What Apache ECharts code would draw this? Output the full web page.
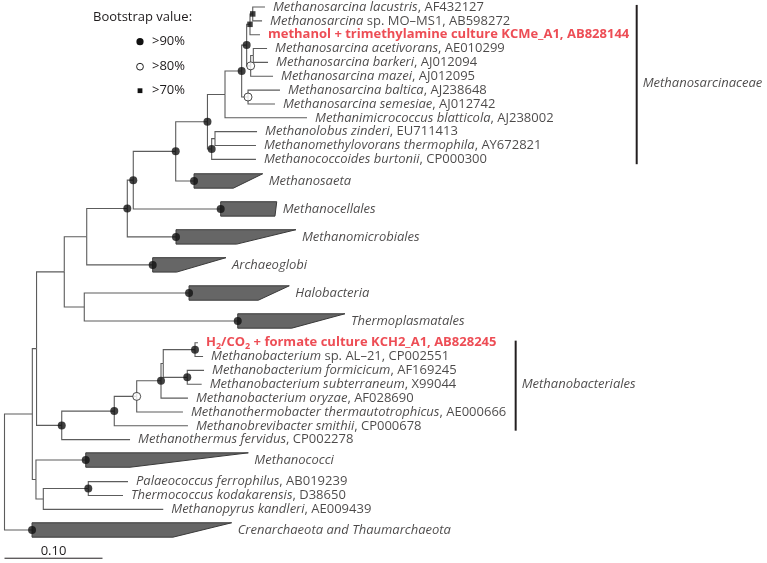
<!DOCTYPE html>
<html><head><meta charset="utf-8">
<script src="https://cdn.jsdelivr.net/npm/echarts@6/dist/echarts.min.js"></script>
<style>html,body{margin:0;padding:0;background:#fff}#c{width:767px;height:563px}</style>
</head><body><div id="c"></div>
<script>
// ---------------- data ----------------
// leaves (terminal taxa or collapsed clades), top to bottom
const leafLabels = [
  '{i|Methanosarcina lacustris}{r|, AF432127}',
  '{i|Methanosarcina}{r| sp. MO–MS1, AB598272}',
  '{b|methanol + trimethylamine culture KCMe_A1, AB828144}',
  '{i|Methanosarcina acetivorans}{r|, AE010299}',
  '{i|Methanosarcina barkeri}{r|, AJ012094}',
  '{i|Methanosarcina mazei}{r|, AJ012095}',
  '{i|Methanosarcina baltica}{r|, AJ238648}',
  '{i|Methanosarcina semesiae}{r|, AJ012742}',
  '{i|Methanimicrococcus blatticola}{r|, AJ238002}',
  '{i|Methanolobus zinderi}{r|, EU711413}',
  '{i|Methanomethylovorans thermophila}{r|, AY672821}',
  '{i|Methanococcoides burtonii}{r|, CP000300}',
  '{i|Methanosaeta}',
  '{i|Methanocellales}',
  '{i|Methanomicrobiales}',
  '{i|Archaeoglobi}',
  '{i|Halobacteria}',
  '{i|Thermoplasmatales}',
  '{b|H}{s|2}{b|/CO}{s|2}{b| + formate culture KCH2_A1, AB828245}',
  '{i|Methanobacterium}{r| sp. AL–21, CP002551}',
  '{i|Methanobacterium formicicum}{r|, AF169245}',
  '{i|Methanobacterium subterraneum}{r|, X99044}',
  '{i|Methanobacterium oryzae}{r|, AF028690}',
  '{i|Methanothermobacter thermautotrophicus}{r|, AE000666}',
  '{i|Methanobrevibacter smithii}{r|, CP000678}',
  '{i|Methanothermus fervidus}{r|, CP002278}',
  '{i|Methanococci}',
  '{i|Palaeococcus ferrophilus}{r|, AB019239}',
  '{i|Thermococcus kodakarensis}{r|, D38650}',
  '{i|Methanopyrus kandleri}{r|, AE009439}',
  '{i|Crenarchaeota and Thaumarchaeota}'
];
const leafRow = [0,1,2,3,4,5,6,7,8,9,10,11,
  12.56,14.58,16.6,18.62,20.65,22.67,
  24.24,25.24,26.24,27.24,28.24,29.24,30.24,31.24,
  32.71,34.27,35.27,36.27,37.76];
const leafParent = ['A','A','B','D','D','E','F','F','H','K','K','J',
  'L','M','N','O','P','P',
  'BB','BB','CC','CC','Z','Y','X','S',
  'U','W','W','V','root'];
// distance from root (substitutions per site)
const leafDepth = [0.2658,0.2628,0.2607,0.2679,0.2689,0.2740,0.2811,0.2760,0.3087,0.2577,0.2566,0.2566,
  0.1934,0.2206,0.1750,0.1512,0.1883,0.2380,
  0.1974,0.2026,0.2036,0.2012,0.1872,0.1821,0.1872,0.1281,
  0.0829,0.1260,0.1209,0.1620,0.0281];
const leafSupport = ['','','','','','','','','','','','',
  'h','h','h','h','h','h',
  '','','','','','','','',
  'h','','','','h'];
// collapsed clades: leaf index, far end of upper edge, far end of lower edge
const cladeLeaf   = [12,13,14,15,16,17,26,30];
const cladeTopEnd = [0.2635,0.2778,0.2974,0.2260,0.2906,0.3474,0.2488,0.2318];
const cladeBotEnd = [0.2335,0.2760,0.2369,0.1757,0.2590,0.2931,0.1281,0.1719];
// internal nodes
const nodeIds     = ['root','T','R','Q','O','N','M','L','I','H','G','C','B','A','E','D','F','J','K','P','S','X','Y','Z','AA','BB','CC','U','V','W'];
const nodeParent  = [null,'root','T','R','Q','O','N','M','L','I','H','G','C','B','C','E','G','I','J','Q','R','S','X','Y','Z','AA','AA','T','U','V'];
const nodeDepth   = [0,0.0284,0.0327,0.0610,0.0839,0.1253,0.1314,0.1747,0.2071,0.2250,0.2420,0.2471,0.2505,0.2533,0.2512,0.2539,0.2485,0.2114,0.2148,0.0814,0.0584,0.1120,0.1349,0.1597,0.1620,0.1944,0.1865,0.0321,0.0396,0.0855];
// bootstrap: h >90%, m >80%, l >70%
const nodeSupport = ['','','','','','h','h','h','h','','h','h','l','l','m','','m','h','','','h','h','m','h','','h','h','','','h'];
// family brackets
const familyNames = ['Methanosarcinaceae','Methanobacteriales'];
const familyFirst = [0,18];
const familyLast  = [11,24];
const familyDepth = [0.6451,0.5216];
// scale bar
const scaleBarLength = 0.10;
const scaleBarLabel = '0.10';
const legendTitle = 'Bootstrap value:';
const legendLabels = ['>90%','>80%','>70%'];

// ---------------- layout of tree from data ----------------
const FONT = 'Open Sans';
const FS = 13;
const TXT = '#1e1b1c';
const RED = '#e8202a';
const LINE = '#5c5c5c';

const children = {};
nodeIds.forEach(id => children[id] = []);
leafParent.forEach((p, i) => children[p].push({leaf: i}));
nodeParent.forEach((p, i) => { if (p) children[p].push({node: nodeIds[i]}); });
const nodeY = {};
function yOf(c) { return c.leaf !== undefined ? leafRow[c.leaf] : computeY(c.node); }
function computeY(id) {
  if (nodeY[id] !== undefined) return nodeY[id];
  const ys = children[id].map(yOf);
  nodeY[id] = (Math.min(...ys) + Math.max(...ys)) / 2;
  return nodeY[id];
}
computeY('root');
const depthOf = {};
nodeIds.forEach((id, i) => depthOf[id] = nodeDepth[i]);

const branchData = [];
leafParent.forEach((p, i) => branchData.push([depthOf[p], nodeY[p], leafDepth[i], leafRow[i]]));
nodeParent.forEach((p, i) => { if (p) branchData.push([depthOf[p], nodeY[p], nodeDepth[i], nodeY[nodeIds[i]]]); });

const sup = {h: [], m: [], l: []};
nodeSupport.forEach((s, i) => { if (s) sup[s].push([nodeDepth[i], nodeY[nodeIds[i]]]); });
leafSupport.forEach((s, i) => { if (s) sup[s].push([leafDepth[i], leafRow[i]]); });

const cladeData = cladeLeaf.map((li, k) => [leafDepth[li], leafRow[li], cladeTopEnd[k], cladeBotEnd[k]]);
const isClade = new Set(cladeLeaf);
const leafLabelData = [];
leafLabels.forEach((t, i) => { if (!isClade.has(i)) leafLabelData.push({value: [leafDepth[i], leafRow[i]], label: {formatter: t}}); });
const cladeLabelData = cladeLeaf.map((li, k) => ({value: [cladeTopEnd[k], leafRow[li]], label: {formatter: leafLabels[li]}}));
const famData = familyNames.map((n, k) => [familyDepth[k], leafRow[familyFirst[k]] - 0.15, leafRow[familyLast[k]] + 0.35]);
const famLabelData = familyNames.map((n, k) => ({value: [familyDepth[k], (leafRow[familyFirst[k]] + leafRow[familyLast[k]]) / 2], label: {formatter: '{i|' + n + '}'}}));

const rich = {
  i: {fontFamily: FONT, fontStyle: 'italic', fontSize: FS, color: TXT},
  r: {fontFamily: FONT, fontSize: FS, color: TXT},
  b: {fontFamily: FONT, fontWeight: 'bold', fontSize: FS, color: RED, lineHeight: 17},
  s: {fontFamily: FONT, fontWeight: 'bold', fontSize: 9, color: RED, lineHeight: 9, verticalAlign: 'bottom'}
};

const chart = echarts.init(document.getElementById('c'), null, {renderer: 'canvas'});
const ROWPX = 13.85;
const option = {
  animation: false,
  backgroundColor: '#fff',
  grid: {left: 4.5, top: 7, width: 0.76 * 980, height: 38 * ROWPX},
  xAxis: {type: 'value', min: 0, max: 0.76, show: false},
  yAxis: {type: 'value', min: 0, max: 38, inverse: true, show: false},
  graphic: [
    {type: 'text', x: 93, y: 17.5, style: {text: legendTitle, font: '13px ' + FONT, fill: TXT, verticalAlign: 'middle'}},
    {type: 'circle', shape: {cx: 140, cy: 41.7, r: 3.6}, style: {fill: '#111'}},
    {type: 'text', x: 152, y: 41.7, style: {text: legendLabels[0], font: '13px ' + FONT, fill: TXT, verticalAlign: 'middle'}},
    {type: 'circle', shape: {cx: 140, cy: 66.7, r: 3.4}, style: {fill: '#fff', stroke: '#222', lineWidth: 1}},
    {type: 'text', x: 152, y: 66.7, style: {text: legendLabels[1], font: '13px ' + FONT, fill: TXT, verticalAlign: 'middle'}},
    {type: 'rect', shape: {x: 137.6, y: 88.3, width: 4.8, height: 4.8}, style: {fill: '#111'}},
    {type: 'text', x: 152, y: 90.7, style: {text: legendLabels[2], font: '13px ' + FONT, fill: TXT, verticalAlign: 'middle'}}
  ],
  series: [
    {
      type: 'custom', name: 'branches', clip: false, silent: true,
      dimensions: ['px', 'py', 'cx', 'cy'], encode: {x: [0, 2], y: [1, 3]},
      data: branchData,
      renderItem: (p, api) => {
        const a = api.coord([api.value(0), api.value(1)]);
        const b = api.coord([api.value(0), api.value(3)]);
        const c = api.coord([api.value(2), api.value(3)]);
        return {type: 'polyline', shape: {points: [a, b, c]}, style: {stroke: LINE, lineWidth: 1.1, fill: null}};
      }
    },
    {
      type: 'custom', name: 'clades', clip: false, silent: true,
      dimensions: ['x0', 'row', 'xt', 'xb'], encode: {x: [0, 2], y: 1},
      data: cladeData,
      renderItem: (p, api) => {
        const x0 = api.value(0), r = api.value(1), xt = api.value(2), xb = api.value(3), h = 0.52;
        return {type: 'polygon', shape: {points: [
          api.coord([x0, r - h]), api.coord([xt, r - h]), api.coord([xb, r + h]), api.coord([x0, r + h])]},
          style: {fill: '#666666', stroke: '#3a3a3a', lineWidth: 1}};
      }
    },
    {
      type: 'custom', name: 'families', clip: false, silent: true,
      dimensions: ['x', 'r0', 'r1'], encode: {x: 0, y: [1, 2]},
      data: famData,
      renderItem: (p, api) => {
        const a = api.coord([api.value(0), api.value(1)]);
        const b = api.coord([api.value(0), api.value(2)]);
        return {type: 'line', shape: {x1: a[0], y1: a[1], x2: b[0], y2: b[1]}, style: {stroke: '#231f20', lineWidth: 2}};
      }
    },
    {
      type: 'custom', name: 'scale', clip: false, silent: true,
      dimensions: ['x0', 'x1', 'row'], encode: {x: [0, 1], y: 2},
      data: [[0, scaleBarLength, 39.8]],
      renderItem: (p, api) => {
        const a = api.coord([api.value(0), api.value(2)]);
        const b = api.coord([api.value(1), api.value(2)]);
        return {type: 'group', children: [
          {type: 'line', shape: {x1: a[0], y1: a[1], x2: b[0], y2: b[1]}, style: {stroke: '#231f20', lineWidth: 1}},
          {type: 'text', x: (a[0] + b[0]) / 2, y: a[1] - 6.5, style: {text: scaleBarLabel, font: FS + 'px ' + FONT, fill: TXT, align: 'center', verticalAlign: 'middle'}}
        ]};
      }
    },
    {type: 'scatter', name: '>90%', silent: true, z: 5, symbol: 'circle', symbolSize: 8, itemStyle: {color: '#111'}, data: sup.h},
    {type: 'scatter', name: '>80%', silent: true, z: 5, symbol: 'circle', symbolSize: 8, itemStyle: {color: '#fff', borderColor: '#222', borderWidth: 1}, data: sup.m},
    {type: 'scatter', name: '>70%', silent: true, z: 5, symbol: 'rect', symbolSize: 5.5, itemStyle: {color: '#111'}, data: sup.l},
    {type: 'scatter', name: 'leafLabels', silent: true, z: 6, symbolSize: 0, data: leafLabelData,
      label: {show: true, position: 'right', distance: 8, rich: rich}},
    {type: 'scatter', name: 'cladeLabels', silent: true, z: 6, symbolSize: 0, data: cladeLabelData,
      label: {show: true, position: 'right', distance: 6, rich: rich}},
    {type: 'scatter', name: 'familyLabels', silent: true, z: 6, symbolSize: 0, data: famLabelData,
      label: {show: true, position: 'right', distance: 6, rich: rich}}
  ]
};
chart.setOption(option);
</script>
</body></html>
